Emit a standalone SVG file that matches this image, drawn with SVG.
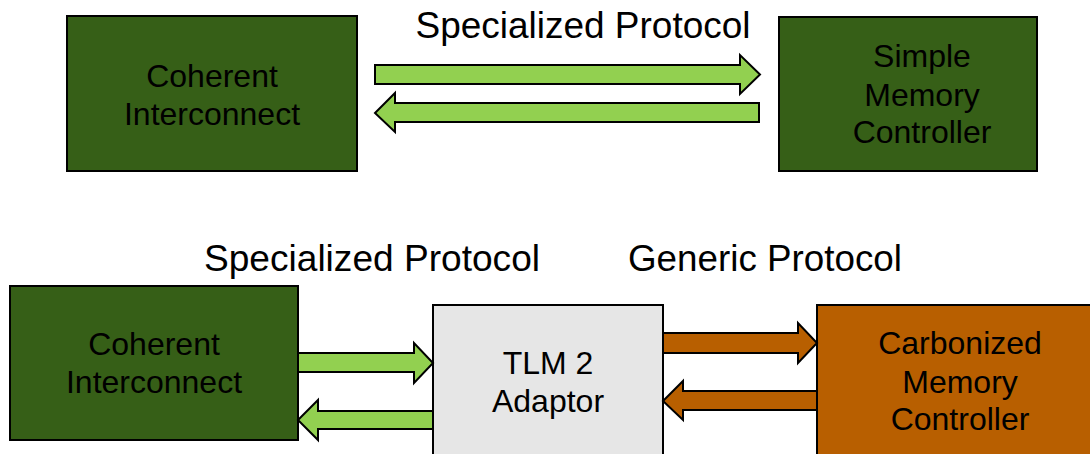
<svg xmlns="http://www.w3.org/2000/svg" width="1090" height="454" viewBox="0 0 1090 454">
<style>
text{font-family:"Liberation Sans",Arial,sans-serif;fill:#000;text-anchor:middle}
.lbl{font-size:36px}
.bt{font-size:32px}
.green{fill:#365F17;stroke:#000;stroke-width:2}
.gray{fill:#E6E6E6;stroke:#000;stroke-width:2}
.orange{fill:#B85F00;stroke:#000;stroke-width:2}
.ga{fill:#92D050;stroke:#000;stroke-width:2;stroke-linejoin:miter}
.oa{fill:#B85F00;stroke:#000;stroke-width:2;stroke-linejoin:miter}
</style>
<text class="lbl" x="583" y="38" textLength="335" lengthAdjust="spacingAndGlyphs">Specialized Protocol</text>
<text class="lbl" x="372" y="271" textLength="336" lengthAdjust="spacingAndGlyphs">Specialized Protocol</text>
<text class="lbl" x="765" y="271" textLength="274" lengthAdjust="spacingAndGlyphs">Generic Protocol</text>
<g id="top-coherent">
<rect class="green" x="67" y="16" width="290" height="155"/>
<text class="bt" x="212" y="87">Coherent</text>
<text class="bt" x="212" y="125">Interconnect</text>
</g>
<g id="simple-mem">
<rect class="green" x="779" y="17" width="258" height="154"/>
<text class="bt" x="922" y="67">Simple</text>
<text class="bt" x="922" y="106">Memory</text>
<text class="bt" x="922" y="143">Controller</text>
</g>
<g id="bottom-coherent">
<rect class="green" x="10" y="286" width="288" height="154"/>
<text class="bt" x="154" y="355">Coherent</text>
<text class="bt" x="154" y="393">Interconnect</text>
</g>
<g id="adaptor">
<rect class="gray" x="433" y="305" width="230" height="160"/>
<text class="bt" x="548" y="374">TLM 2</text>
<text class="bt" x="548" y="412">Adaptor</text>
</g>
<g id="carbonized">
<rect class="orange" x="817" y="305" width="285" height="160"/>
<text class="bt" x="960" y="354">Carbonized</text>
<text class="bt" x="960" y="393">Memory</text>
<text class="bt" x="960" y="430">Controller</text>
</g>
<g id="connectors">
<polygon class="ga" points="375,65 740,65 740,55 760,74.5 740,94 740,84 375,84"/>
<polygon class="ga" points="759,103 395,103 395,93 375,113 395,132 395,122 759,122"/>
<polygon class="ga" points="298,353 414,353 414,343 433,363 414,383 414,372 298,372"/>
<polygon class="ga" points="433,411 318,411 318,400 298,420 318,440 318,429 433,429"/>
<polygon class="oa" points="663,333 798,333 798,323 817,343 798,363 798,353 663,353"/>
<polygon class="oa" points="817,391 683,391 683,381 663,401 683,420 683,410 817,410"/>
</g>
</svg>
